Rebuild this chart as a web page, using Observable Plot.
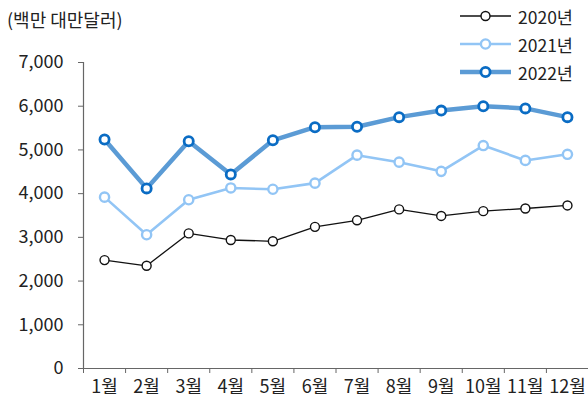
<!DOCTYPE html>
<html>
<head>
<meta charset="utf-8">
<script src="https://cdn.jsdelivr.net/npm/d3@7"></script>
<script src="https://cdn.jsdelivr.net/npm/@observablehq/plot@0.6"></script>
<style>
  html, body { margin: 0; padding: 0; background: #fff; }
  #wrap { position: relative; width: 588px; height: 405px; font-family: "Noto Sans CJK KR", "Noto Sans", sans-serif; color: #222; }
  #title { position: absolute; left: 7px; top: 7px; font-size: 18px; line-height: 24px; }
  #legend { position: absolute; left: 460px; top: 2px; font-size: 17.5px; }
  .row { display: flex; align-items: center; height: 28px; }
  .row svg { margin-right: 7px; }
  #chart { position: absolute; left: 0; top: 0; }
</style>
</head>
<body>
<div id="wrap">
  <div id="chart"></div>
  <div id="title">(백만 대만달러)</div>
  <div id="legend"></div>
</div>
<script>
const months = ["1월","2월","3월","4월","5월","6월","7월","8월","9월","10월","11월","12월"];
const seriesNames = ["2020년","2021년","2022년"];
const v2020 = [2480, 2350, 3090, 2940, 2910, 3240, 3390, 3640, 3490, 3600, 3660, 3730];
const v2021 = [3920, 3060, 3860, 4130, 4100, 4240, 4880, 4720, 4510, 5100, 4760, 4900];
const v2022 = [5240, 4120, 5200, 4440, 5220, 5520, 5530, 5750, 5900, 6000, 5950, 5750];
const yTicks = [0, 1000, 2000, 3000, 4000, 5000, 6000, 7000];

const styles = {
  "2020년": {line: "#111111", marker: "#111111", lw: 1.3, mw: 1.4, r: 4.5},
  "2021년": {line: "#92C5F5", marker: "#92C5F5", lw: 2.6, mw: 2.4, r: 4.6},
  "2022년": {line: "#5B9BD5", marker: "#0A6CC4", lw: 4.5, mw: 2.8, r: 4.6}
};
const valuesBy = {"2020년": v2020, "2021년": v2021, "2022년": v2022};
const table = seriesNames.flatMap(s => valuesBy[s].map((v, i) => ({series: s, i: i + 0.5, month: months[i], value: v})));

const marks = [
  Plot.ruleY([0], {stroke: "#666", strokeWidth: 1.2}),
  Plot.ruleX([0], {y1: 0, y2: 7000, stroke: "#666", strokeWidth: 1.2}),
  Plot.axisY({ticks: yTicks, tickFormat: d3.format(","), tickSize: 5, tickPadding: 15, fontSize: 18, stroke: "#666", color: "#222", label: null}),
  Plot.axisX({ticks: d3.range(0, 13), tickFormat: () => "", tickSize: 5, stroke: "#666", label: null}),
  Plot.axisX({ticks: months.map((m, i) => i + 0.5), tickFormat: d => months[Math.round(d - 0.5)], tickSize: 0, tickPadding: 12, fontSize: 18, color: "#222", label: null})
];
for (const s of seriesNames) {
  const st = styles[s];
  const d = table.filter(r => r.series === s);
  marks.push(Plot.line(d, {x: "i", y: "value", stroke: st.line, strokeWidth: st.lw}));
  marks.push(Plot.dot(d, {x: "i", y: "value", r: st.r, fill: "white", stroke: st.marker, strokeWidth: st.mw}));
}

const chart = Plot.plot({
  width: 588,
  height: 405,
  marginLeft: 83,
  marginRight: 0,
  marginTop: 62,
  marginBottom: 37,
  style: {fontFamily: "'Noto Sans CJK KR', 'Noto Sans', sans-serif", fontSize: "18px", background: "white", color: "#222"},
  x: {type: "linear", domain: [0, 12], axis: null},
  y: {domain: [0, 7000], axis: null},
  marks
});
document.getElementById("chart").appendChild(chart);

const legend = document.getElementById("legend");
for (const s of seriesNames) {
  const st = styles[s];
  const row = document.createElement("div");
  row.className = "row";
  row.innerHTML = `<svg width="51" height="14"><line x1="0" x2="51" y1="7" y2="7" stroke="${st.line}" stroke-width="${st.lw}"/><circle cx="25.5" cy="7" r="${st.r}" fill="white" stroke="${st.marker}" stroke-width="${st.mw}"/></svg><span>${s}</span>`;
  legend.appendChild(row);
}
</script>
</body>
</html>
